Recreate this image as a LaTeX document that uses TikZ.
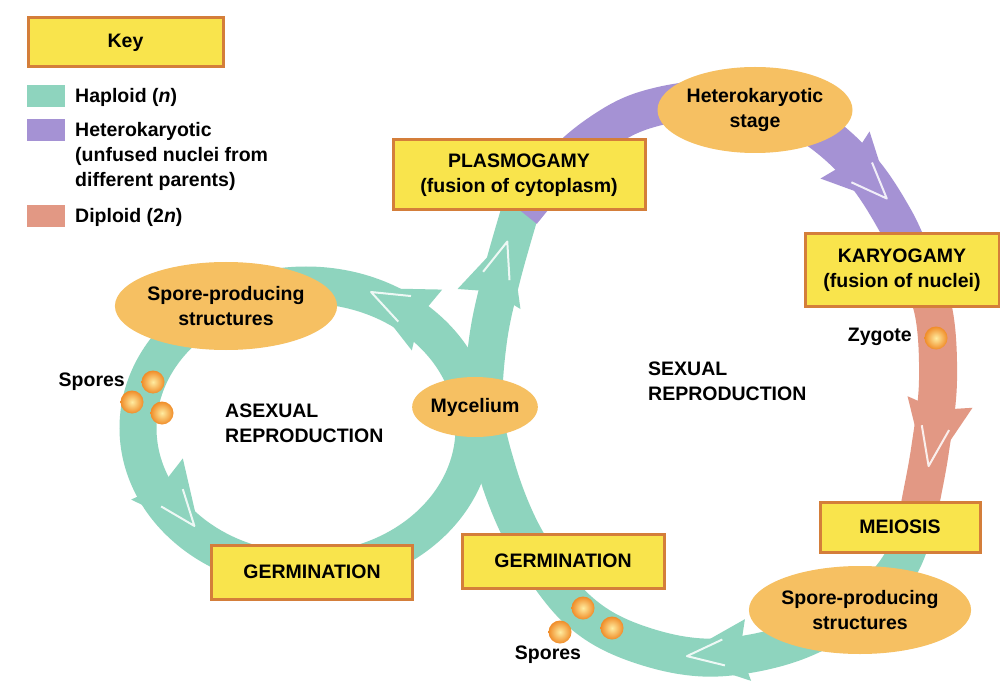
\documentclass[tikz,border=0pt]{standalone}
\usepackage{fontspec}
\setmainfont{Liberation Sans}
\usetikzlibrary{shapes.geometric,calc}
\definecolor{hap}{RGB}{142,212,190}
\definecolor{het}{RGB}{165,146,212}
\definecolor{dip}{RGB}{226,152,132}
\definecolor{boxfill}{RGB}{249,228,76}
\definecolor{boxline}{RGB}{212,126,58}
\definecolor{ellfill}{RGB}{246,192,98}
\definecolor{sporein}{RGB}{255,236,160}
\definecolor{sporeout}{RGB}{240,140,40}
\newcommand\txt{\fontsize{19.5}{25}\selectfont\bfseries}
\newcommand\bandhead[4]{%
  \fill[#1] (#2) -- ($(#3)!#4!90:(#2)$) -- ($(#3)!8pt!(#2)$) -- ($(#3)!#4!-90:(#2)$) -- cycle;
  \draw[white, line width=2pt, line join=round, opacity=0.85]
    ($($(#2)!9pt!(#3)$)!0.6!($(#3)!0.7*#4!90:(#2)$)$) -- ($(#2)!9pt!(#3)$) --
    ($($(#2)!9pt!(#3)$)!0.6!($(#3)!0.7*#4!-90:(#2)$)$);
}
\tikzset{
  stagebox/.style={draw=boxline, line width=3pt, fill=boxfill, align=center, font=\txt, inner sep=0pt},
  stage/.style={ellipse, fill=ellfill, align=center, font=\txt, inner sep=0pt},
  lbl/.style={font=\txt, align=left, inner sep=0pt},
  spore/.style={circle, minimum size=23pt, inner sep=0pt, shade, inner color=sporein, outer color=sporeout},
  band/.style={line width=38pt, line cap=butt},
  swatch/.style={inner sep=0pt, minimum width=38pt, minimum height=22pt}
}
\begin{document}
\begin{tikzpicture}[x=1pt,y=-1pt]
\fill[white] (0,0) rectangle (1000,684);
\useasboundingbox (0,0) rectangle (1000,684);

% ---------- bands ----------
% asexual ring
\draw[hap, line width=37pt] (306,428) ellipse [x radius=168pt, y radius=143pt];
% sexual loop: haploid part
\draw[hap, band] plot[smooth, tension=0.6] coordinates {(918,515) (900,565) (862,605) (800,640) (735,656) (680,655) (620,637) (578,610) (545,570) (518,525) (497,470) (484,410) (488,340) (502,275) (522,205)};
% heterokaryotic part
\draw[het, band] plot[smooth, tension=0.6] coordinates {(522,212) (562,165) (600,133) (642,111) (700,100) (755,105) (810,125) (860,168) (895,220) (915,265)};
% diploid part
\draw[dip, band] plot[smooth, tension=0.6] coordinates {(905,255) (932,305) (938,380) (930,450) (920,505) (916,530)};

% ---------- arrowheads ----------
\coordinate (a1t) at (363,288); \coordinate (a1b) at (427,320);
\coordinate (a2t) at (200,533); \coordinate (a2b) at (157,479);
\coordinate (s1t) at (510,233); \coordinate (s1b) at (489,299);
\coordinate (s2t) at (893,205); \coordinate (s2b) at (845,155);
\coordinate (s3t) at (927,475); \coordinate (s3b) at (940,402);
\coordinate (s4t) at (678,657); \coordinate (s4b) at (748,650);
\bandhead{hap}{a1t}{a1b}{34pt}
\bandhead{hap}{a2t}{a2b}{33pt}
\bandhead{hap}{s1t}{s1b}{33pt}
\bandhead{het}{s2t}{s2b}{34pt}
\bandhead{dip}{s3t}{s3b}{33pt}
\bandhead{hap}{s4t}{s4b}{31pt}

% ---------- key ----------
\node[stagebox, minimum width=195pt, minimum height=49pt] (key) at (125.5,42.5) {Key};
\node[swatch, fill=hap] (swh) at (46,96.5) {};
\node[swatch, fill=het] (swk) at (46,130.5) {};
\node[swatch, fill=dip] (swd) at (46,216.5) {};
\node[lbl, anchor=west] (lh) at (75,97) {Haploid (\textit{n})};
\node[lbl, anchor=west] (lk) at (75,156) {Heterokaryotic\\(unfused nuclei from\\different parents)};
\node[lbl, anchor=west] (ld) at (75,217) {Diploid (2\textit{n})};

% ---------- stages ----------
\node[stagebox, minimum width=252pt, minimum height=70pt] (plasmo) at (519,175) {PLASMOGAMY\\(fusion of cytoplasm)};
\node[stage, minimum width=195pt, minimum height=86pt] (hetst) at (755,110) {Heterokaryotic\\stage};
\node[stagebox, minimum width=194pt, minimum height=72pt] (karyo) at (902,270) {KARYOGAMY\\(fusion of nuclei)};
\node[stagebox, minimum width=160pt, minimum height=50pt] (meio) at (900,527) {MEIOSIS};
\node[stage, minimum width=194pt, minimum height=88pt] (sprR) at (860,610) {Spore-producing\\structures};
\node[stagebox, minimum width=202pt, minimum height=54pt] (germR) at (563,561) {GERMINATION};
\node[stagebox, minimum width=201pt, minimum height=54pt] (germL) at (312,572) {GERMINATION};
\node[stage, minimum width=188pt, minimum height=88pt] (sprL) at (226,306) {Spore-producing\\structures};
\node[stage, minimum width=124pt, minimum height=60pt] (myc) at (475,407) {Mycelium};

% ---------- labels ----------
\node[lbl, anchor=west] (asex) at (225,423) {ASEXUAL\\REPRODUCTION};
\node[lbl, anchor=west] (sex) at (648,381) {SEXUAL\\REPRODUCTION};
\node[lbl, anchor=east] (sporesL) at (125,382) {Spores};
\node[lbl] (sporesB) at (548,655) {Spores};
\node[lbl, anchor=east] (zyg) at (912,337) {Zygote};

% ---------- spores ----------
\node[spore] (spl1) at (153,382) {};
\node[spore] (spl2) at (132,402) {};
\node[spore] (spl3) at (162,413) {};
\node[spore] (spb1) at (583,608) {};
\node[spore] (spb2) at (612,628) {};
\node[spore] (spb3) at (560,632) {};
\node[spore] (zygote) at (936,338) {};
\end{tikzpicture}
\end{document}
